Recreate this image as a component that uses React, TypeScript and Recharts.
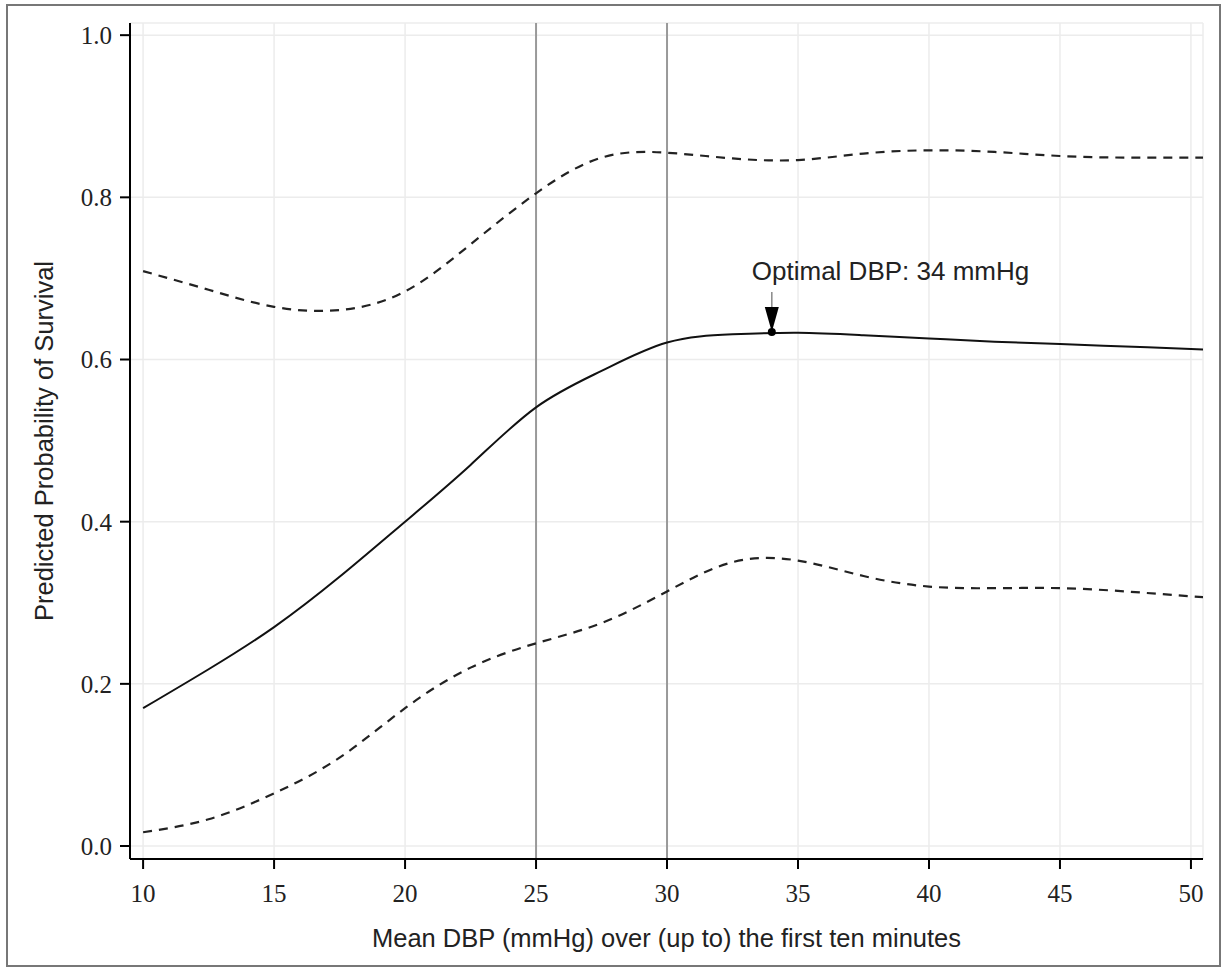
import {
  LineChart,
  Line,
  XAxis,
  YAxis,
  CartesianGrid,
  ReferenceLine,
  ReferenceDot,
} from 'recharts'

// mean DBP (mmHg), evenly spaced so the spline stays smooth
const dbp = [10, 12.5, 15, 17.5, 20, 22.5, 25, 27.5, 30, 32.5, 35, 37.5, 40, 42.5, 45, 47.5, 50, 52.5]
// predicted probability of survival
const estimate = [0.17, 0.218, 0.27, 0.332, 0.4, 0.47, 0.541, 0.586, 0.621, 0.631, 0.633, 0.63, 0.626, 0.622, 0.619, 0.616, 0.613, 0.61]
const upperCI = [0.709, 0.686, 0.665, 0.661, 0.684, 0.742, 0.805, 0.849, 0.855, 0.848, 0.846, 0.854, 0.858, 0.856, 0.851, 0.849, 0.849, 0.849]
const lowerCI = [0.017, 0.033, 0.065, 0.109, 0.17, 0.22, 0.25, 0.275, 0.314, 0.35, 0.352, 0.333, 0.32, 0.318, 0.318, 0.314, 0.308, 0.303]

const xTicks = [10, 15, 20, 25, 30, 35, 40, 45, 50]
const yTicks = [0, 0.2, 0.4, 0.6, 0.8, 1.0]
const cutoffs = [25, 30]
const optimum = { x: 34, y: 0.634, label: 'Optimal DBP: 34 mmHg' }

const data = dbp.map((x, i) => ({
  x,
  est: estimate[i],
  upper: upperCI[i],
  lower: lowerCI[i],
}))

const serif = 'Liberation Serif, Times New Roman, serif'
const sans = 'Liberation Sans, Arial, sans-serif'

function OptimumMarker(props: any) {
  const { cx, cy } = props
  return (
    <g>
      <line x1={cx} y1={cy - 40} x2={cx} y2={cy - 25} stroke="#888" strokeWidth={1.5} />
      <path d={`M${cx - 7},${cy - 25} L${cx + 7},${cy - 25} L${cx},${cy} Z`} fill="#000" />
      <circle cx={cx} cy={cy} r={4} fill="#000" />
      <text x={cx - 20} y={cy - 52} fontFamily={sans} fontSize={26} fill="#222">
        {optimum.label}
      </text>
    </g>
  )
}

export default function App() {
  return (
    <div style={{ position: 'absolute', left: 0, top: 0, width: 1228, height: 970, background: '#fff' }}>
      <div
        style={{
          position: 'absolute',
          left: 6,
          top: 4,
          width: 1215,
          height: 963,
          border: '2px solid #777',
          boxSizing: 'border-box',
        }}
      />
      <LineChart
        width={1228}
        height={970}
        data={data}
        margin={{ top: 23, right: 25, left: 0, bottom: 11 }}
        style={{ position: 'absolute', left: 0, top: 0 }}
      >
        <CartesianGrid stroke="#ececec" strokeWidth={1.5} />
        <XAxis
          dataKey="x"
          type="number"
          domain={[9.5, 50.46]}
          ticks={xTicks}
          allowDataOverflow
          height={100}
          tickSize={10}
          tickMargin={15}
          axisLine={{ stroke: '#000', strokeWidth: 2 }}
          tickLine={{ stroke: '#000', strokeWidth: 2 }}
          tick={{ fontFamily: serif, fontSize: 25, fill: '#222' }}
          label={{
            value: 'Mean DBP (mmHg) over (up to) the first ten minutes',
            position: 'insideBottom',
            offset: 12,
            style: { fontFamily: sans, fontSize: 25.5, fill: '#222' },
          }}
        />
        <XAxis
          xAxisId="top"
          orientation="top"
          dataKey="x"
          type="number"
          domain={[9.5, 50.46]}
          height={0}
          tick={false}
          tickLine={false}
          axisLine={{ stroke: '#000', strokeWidth: 2 }}
        />
        <YAxis
          type="number"
          domain={[-0.016, 1.015]}
          ticks={yTicks}
          allowDataOverflow
          width={130}
          tickSize={10}
          tickMargin={8}
          tickFormatter={(v: number) => v.toFixed(1)}
          axisLine={{ stroke: '#000', strokeWidth: 2 }}
          tickLine={{ stroke: '#000', strokeWidth: 2 }}
          tick={{ fontFamily: serif, fontSize: 25, fill: '#222' }}
          label={{
            value: 'Predicted Probability of Survival',
            angle: -90,
            position: 'insideLeft',
            offset: 44,
            style: { fontFamily: sans, fontSize: 25.5, fill: '#222', textAnchor: 'middle' },
          }}
        />
        <YAxis
          yAxisId="right"
          orientation="right"
          type="number"
          domain={[-0.016, 1.015]}
          width={0}
          tick={false}
          tickLine={false}
          axisLine={{ stroke: '#000', strokeWidth: 2 }}
        />
        {cutoffs.map((c) => (
          <ReferenceLine key={c} x={c} stroke="#999" strokeWidth={2} />
        ))}
        <Line
          dataKey="upper"
          type="natural"
          stroke="#222"
          strokeWidth={2.2}
          strokeDasharray="9 7"
          dot={false}
          activeDot={false}
          isAnimationActive={false}
        />
        <Line
          dataKey="lower"
          type="natural"
          stroke="#222"
          strokeWidth={2.2}
          strokeDasharray="9 7"
          dot={false}
          activeDot={false}
          isAnimationActive={false}
        />
        <Line
          dataKey="est"
          type="natural"
          stroke="#111"
          strokeWidth={2}
          dot={false}
          activeDot={false}
          isAnimationActive={false}
        />
        <ReferenceDot x={optimum.x} y={optimum.y} r={4} shape={OptimumMarker} />
      </LineChart>
    </div>
  )
}
